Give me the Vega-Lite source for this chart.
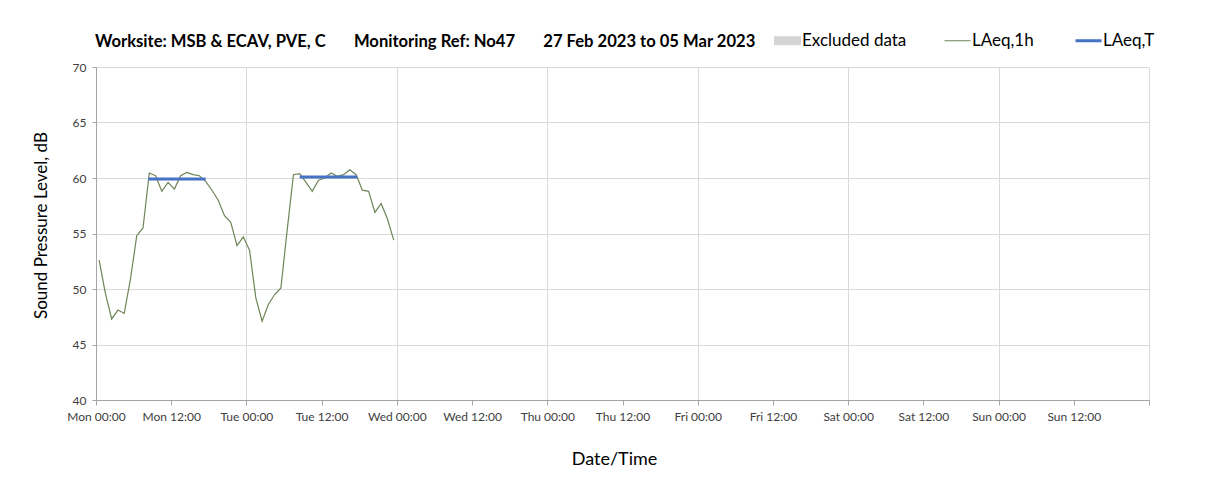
{
  "$schema": "https://vega.github.io/schema/vega-lite/v6.json",
  "width": 1053,
  "height": 333,
  "autosize": {"type": "none"},
  "padding": {"left": 96, "top": 67, "right": 59, "bottom": 95},
  "background": "#ffffff",
  "config": {
    "view": {"stroke": null},
    "font": "Lato"
  },
  "title": {
    "text": "Worksite: MSB & ECAV, PVE, C\u00a0\u00a0\u00a0\u00a0\u00a0\u00a0 Monitoring Ref: No47\u00a0\u00a0\u00a0\u00a0\u00a0\u00a0 27 Feb 2023 to 05 Mar 2023",
    "anchor": "start",
    "frame": "group",
    "font": "Lato",
    "fontSize": 16.6,
    "fontWeight": "bold",
    "color": "#000000",
    "offset": -19,
    "dx": -1
  },
  "datasets": {
    "hourly": [
      {"t": "2023-02-27T00:30:00Z", "level": 52.6, "series": "LAeq,1h"},
      {"t": "2023-02-27T01:30:00Z", "level": 49.6, "series": "LAeq,1h"},
      {"t": "2023-02-27T02:30:00Z", "level": 47.3, "series": "LAeq,1h"},
      {"t": "2023-02-27T03:30:00Z", "level": 48.1, "series": "LAeq,1h"},
      {"t": "2023-02-27T04:30:00Z", "level": 47.8, "series": "LAeq,1h"},
      {"t": "2023-02-27T05:30:00Z", "level": 50.9, "series": "LAeq,1h"},
      {"t": "2023-02-27T06:30:00Z", "level": 54.8, "series": "LAeq,1h"},
      {"t": "2023-02-27T07:30:00Z", "level": 55.5, "series": "LAeq,1h"},
      {"t": "2023-02-27T08:30:00Z", "level": 60.45, "series": "LAeq,1h"},
      {"t": "2023-02-27T09:30:00Z", "level": 60.2, "series": "LAeq,1h"},
      {"t": "2023-02-27T10:30:00Z", "level": 58.8, "series": "LAeq,1h"},
      {"t": "2023-02-27T11:30:00Z", "level": 59.6, "series": "LAeq,1h"},
      {"t": "2023-02-27T12:30:00Z", "level": 59.0, "series": "LAeq,1h"},
      {"t": "2023-02-27T13:30:00Z", "level": 60.2, "series": "LAeq,1h"},
      {"t": "2023-02-27T14:30:00Z", "level": 60.5, "series": "LAeq,1h"},
      {"t": "2023-02-27T15:30:00Z", "level": 60.3, "series": "LAeq,1h"},
      {"t": "2023-02-27T16:30:00Z", "level": 60.2, "series": "LAeq,1h"},
      {"t": "2023-02-27T17:30:00Z", "level": 59.7, "series": "LAeq,1h"},
      {"t": "2023-02-27T18:30:00Z", "level": 58.9, "series": "LAeq,1h"},
      {"t": "2023-02-27T19:30:00Z", "level": 58.0, "series": "LAeq,1h"},
      {"t": "2023-02-27T20:30:00Z", "level": 56.6, "series": "LAeq,1h"},
      {"t": "2023-02-27T21:30:00Z", "level": 56.0, "series": "LAeq,1h"},
      {"t": "2023-02-27T22:30:00Z", "level": 53.9, "series": "LAeq,1h"},
      {"t": "2023-02-27T23:30:00Z", "level": 54.7, "series": "LAeq,1h"},
      {"t": "2023-02-28T00:30:00Z", "level": 53.5, "series": "LAeq,1h"},
      {"t": "2023-02-28T01:30:00Z", "level": 49.2, "series": "LAeq,1h"},
      {"t": "2023-02-28T02:30:00Z", "level": 47.1, "series": "LAeq,1h"},
      {"t": "2023-02-28T03:30:00Z", "level": 48.6, "series": "LAeq,1h"},
      {"t": "2023-02-28T04:30:00Z", "level": 49.5, "series": "LAeq,1h"},
      {"t": "2023-02-28T05:30:00Z", "level": 50.1, "series": "LAeq,1h"},
      {"t": "2023-02-28T06:30:00Z", "level": 55.3, "series": "LAeq,1h"},
      {"t": "2023-02-28T07:30:00Z", "level": 60.3, "series": "LAeq,1h"},
      {"t": "2023-02-28T08:30:00Z", "level": 60.4, "series": "LAeq,1h"},
      {"t": "2023-02-28T09:30:00Z", "level": 59.6, "series": "LAeq,1h"},
      {"t": "2023-02-28T10:30:00Z", "level": 58.8, "series": "LAeq,1h"},
      {"t": "2023-02-28T11:30:00Z", "level": 59.8, "series": "LAeq,1h"},
      {"t": "2023-02-28T12:30:00Z", "level": 60.0, "series": "LAeq,1h"},
      {"t": "2023-02-28T13:30:00Z", "level": 60.45, "series": "LAeq,1h"},
      {"t": "2023-02-28T14:30:00Z", "level": 60.15, "series": "LAeq,1h"},
      {"t": "2023-02-28T15:30:00Z", "level": 60.3, "series": "LAeq,1h"},
      {"t": "2023-02-28T16:30:00Z", "level": 60.75, "series": "LAeq,1h"},
      {"t": "2023-02-28T17:30:00Z", "level": 60.3, "series": "LAeq,1h"},
      {"t": "2023-02-28T18:30:00Z", "level": 58.9, "series": "LAeq,1h"},
      {"t": "2023-02-28T19:30:00Z", "level": 58.8, "series": "LAeq,1h"},
      {"t": "2023-02-28T20:30:00Z", "level": 56.9, "series": "LAeq,1h"},
      {"t": "2023-02-28T21:30:00Z", "level": 57.7, "series": "LAeq,1h"},
      {"t": "2023-02-28T22:30:00Z", "level": 56.3, "series": "LAeq,1h"},
      {"t": "2023-02-28T23:30:00Z", "level": 54.4, "series": "LAeq,1h"}
    ],
    "period": [
      {"start": "2023-02-27T08:20:00Z", "end": "2023-02-27T17:30:00Z", "level": 59.9, "series": "LAeq,T"},
      {"start": "2023-02-28T08:30:00Z", "end": "2023-02-28T17:40:00Z", "level": 60.1, "series": "LAeq,T"}
    ]
  },
  "layer": [
    {
      "data": {"name": "hourly"},
      "mark": {"type": "line", "strokeWidth": 1.2, "interpolate": "linear"},
      "encoding": {
        "x": {
          "field": "t",
          "type": "temporal",
          "scale": {"type": "utc", "domain": [1677456000000, 1678060800000], "nice": false},
          "axis": {
            "title": "Date/Time",
            "titleFont": "Lato",
            "titleFontSize": 18,
            "titleFontWeight": "normal",
            "titleColor": "#000000",
            "titlePadding": 28,
            "titleX": 518,
            "values": [1677456000000, 1677499200000, 1677542400000, 1677585600000, 1677628800000, 1677672000000, 1677715200000, 1677758400000, 1677801600000, 1677844800000, 1677888000000, 1677931200000, 1677974400000, 1678017600000, 1678060800000],
            "labelExpr": "datum.value >= 1678060800000 ? '' : utcFormat(datum.value, '%a %H:%M')",
            "labelFont": "Lato",
            "labelFontSize": 12,
            "labelColor": "#404040",
            "labelPadding": 6,
            "labelFlush": false,
            "labelOverlap": false,
            "tickSize": 5,
            "tickColor": "#a6a6a6",
            "domainColor": "#a6a6a6",
            "grid": true,
            "gridColor": "#d9d9d9",
            "gridOpacity": {"condition": {"test": "utchours(datum.value) == 0", "value": 1}, "value": 0}
          }
        },
        "y": {
          "field": "level",
          "type": "quantitative",
          "scale": {"domain": [40, 70], "nice": false, "zero": false},
          "axis": {
            "title": "Sound Pressure Level, dB",
            "titleFont": "Lato",
            "titleFontSize": 17,
            "titleFontWeight": "normal",
            "titleColor": "#000000",
            "titlePadding": 22,
            "titleY": 158,
            "values": [40, 45, 50, 55, 60, 65, 70],
            "labelFont": "Lato",
            "labelFontSize": 12,
            "labelColor": "#404040",
            "labelPadding": 6,
            "tickSize": 4,
            "tickColor": "#a6a6a6",
            "domainColor": "#a6a6a6",
            "grid": true,
            "gridColor": "#d9d9d9"
          }
        },
        "color": {
          "field": "series",
          "type": "nominal",
          "scale": {"domain": ["Excluded data", "LAeq,1h", "LAeq,T"], "range": ["#d4d4d4", "#6e8558", "#4472c4"]},
          "legend": {
            "orient": "none",
            "legendX": 683,
            "legendY": -35,
            "direction": "horizontal",
            "title": null,
            "labelFont": "Lato",
            "labelFontSize": 17,
            "labelColor": "#000000",
            "labelOffset": 6,
            "columnPadding": 35,
            "symbolSize": 676,
            "symbolType": "stroke",
            "encoding": {
              "symbols": {
                "shape": {"value": {"expr": "datum.value === 'Excluded data' ? 'M-1,-0.31H1V0.31H-1Z' : 'M-1,0H1'"}},
                "fill": {"value": {"expr": "datum.value === 'Excluded data' ? '#d4d4d4' : 'transparent'"}},
                "stroke": {"value": {"expr": "datum.value === 'Excluded data' ? 'transparent' : (datum.value === 'LAeq,T' ? '#4472c4' : '#6e8558')"}},
                "strokeWidth": {"value": {"expr": "datum.value === 'LAeq,T' ? 3 : 1"}}
              }
            }
          }
        }
      }
    },
    {
      "data": {"name": "period"},
      "mark": {"type": "rule", "strokeWidth": 3},
      "encoding": {
        "x": {"field": "start", "type": "temporal"},
        "x2": {"field": "end"},
        "y": {"field": "level", "type": "quantitative"},
        "color": {"field": "series", "type": "nominal"}
      }
    }
  ]
}
